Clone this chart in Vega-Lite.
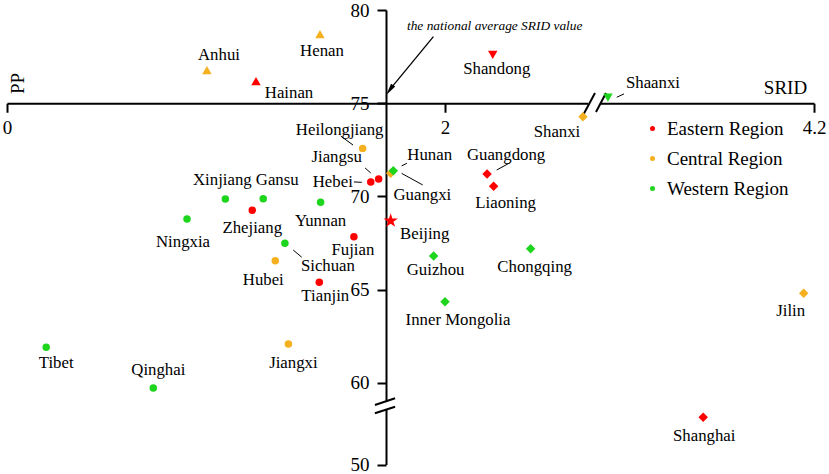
{
  "$schema": "https://vega.github.io/schema/vega-lite/v6.json",
  "width": 829,
  "height": 474,
  "autosize": {"type": "none"},
  "padding": 0,
  "background": "white",
  "config": {
    "view": {"stroke": null},
    "font": "Liberation Serif",
    "text": {"font": "Liberation Serif", "fontSize": 16.8, "color": "black", "align": "center", "baseline": "middle"}
  },
  "datasets": {
    "provinces": [
      {"province": "Anhui", "region": "Central Region", "quadrant": "upper-left", "srid": 0.913, "pp": 76.78},
      {"province": "Henan", "region": "Central Region", "quadrant": "upper-left", "srid": 1.429, "pp": 78.71},
      {"province": "Hainan", "region": "Eastern Region", "quadrant": "upper-left", "srid": 1.137, "pp": 76.19},
      {"province": "Shandong", "region": "Eastern Region", "quadrant": "upper-right", "srid": 2.218, "pp": 77.59},
      {"province": "Shaanxi", "region": "Western Region", "quadrant": "upper-right", "srid": 3.259, "pp": 75.30},
      {"province": "Shanxi", "region": "Central Region", "quadrant": "lower-right", "srid": 2.630, "pp": 74.28},
      {"province": "Heilongjiang", "region": "Central Region", "quadrant": "lower-left", "srid": 1.624, "pp": 72.58},
      {"province": "Jiangsu", "region": "Eastern Region", "quadrant": "lower-left", "srid": 1.697, "pp": 70.94},
      {"province": "Hebei", "region": "Eastern Region", "quadrant": "lower-left", "srid": 1.661, "pp": 70.78},
      {"province": "Hunan", "region": "Central Region", "quadrant": "lower-right", "srid": 1.752, "pp": 71.24},
      {"province": "Guangxi", "region": "Western Region", "quadrant": "lower-right", "srid": 1.764, "pp": 71.38},
      {"province": "Xinjiang", "region": "Western Region", "quadrant": "lower-left", "srid": 0.997, "pp": 69.87},
      {"province": "Gansu", "region": "Western Region", "quadrant": "lower-left", "srid": 1.170, "pp": 69.88},
      {"province": "Zhejiang", "region": "Eastern Region", "quadrant": "lower-left", "srid": 1.120, "pp": 69.26},
      {"province": "Ningxia", "region": "Western Region", "quadrant": "lower-left", "srid": 0.822, "pp": 68.79},
      {"province": "Yunnan", "region": "Western Region", "quadrant": "lower-left", "srid": 1.432, "pp": 69.69},
      {"province": "Beijing", "region": "Eastern Region", "quadrant": "capital", "srid": 1.752, "pp": 68.70},
      {"province": "Fujian", "region": "Eastern Region", "quadrant": "lower-left", "srid": 1.584, "pp": 67.84},
      {"province": "Sichuan", "region": "Western Region", "quadrant": "lower-left", "srid": 1.269, "pp": 67.49},
      {"province": "Hubei", "region": "Central Region", "quadrant": "lower-left", "srid": 1.225, "pp": 66.56},
      {"province": "Tianjin", "region": "Eastern Region", "quadrant": "lower-left", "srid": 1.426, "pp": 65.40},
      {"province": "Guangdong", "region": "Eastern Region", "quadrant": "lower-right", "srid": 2.192, "pp": 71.21},
      {"province": "Liaoning", "region": "Eastern Region", "quadrant": "lower-right", "srid": 2.222, "pp": 70.55},
      {"province": "Guizhou", "region": "Western Region", "quadrant": "lower-right", "srid": 1.948, "pp": 66.81},
      {"province": "Chongqing", "region": "Western Region", "quadrant": "lower-right", "srid": 2.391, "pp": 67.20},
      {"province": "Inner Mongolia", "region": "Western Region", "quadrant": "lower-right", "srid": 2.000, "pp": 64.36},
      {"province": "Jilin", "region": "Central Region", "quadrant": "lower-right", "srid": 4.153, "pp": 64.81},
      {"province": "Tibet", "region": "Western Region", "quadrant": "lower-left", "srid": 0.179, "pp": 61.91},
      {"province": "Qinghai", "region": "Western Region", "quadrant": "lower-left", "srid": 0.668, "pp": 59.73},
      {"province": "Jiangxi", "region": "Central Region", "quadrant": "lower-left", "srid": 1.285, "pp": 62.09},
      {"province": "Shanghai", "region": "Eastern Region", "quadrant": "lower-right", "srid": 3.694, "pp": 52.53}
    ],
    "segments": [
      {"kind": "gap", "srid": 2.670, "pp": 75, "srid2": 3.060, "pp2": 75},
      {"kind": "gap", "srid": 1.7306, "pp": 57.69, "srid2": 1.7306, "pp2": 53.96},
      {"kind": "slash", "srid": 2.626, "pp": 74.26, "srid2": 2.896, "pp2": 75.55},
      {"kind": "slash", "srid": 2.928, "pp": 74.53, "srid2": 3.25, "pp2": 75.55},
      {"kind": "slash", "srid": 1.680, "pp": 56.04, "srid2": 1.772, "pp2": 59.02},
      {"kind": "slash", "srid": 1.680, "pp": 52.75, "srid2": 1.772, "pp2": 55.29},
      {"kind": "leader", "srid": 1.524, "pp": 73.24, "srid2": 1.580, "pp2": 72.76},
      {"kind": "leader", "srid": 1.635, "pp": 71.53, "srid2": 1.661, "pp2": 71.26},
      {"kind": "leader", "srid": 1.584, "pp": 70.78, "srid2": 1.620, "pp2": 70.76},
      {"kind": "leader", "srid": 1.802, "pp": 71.64, "srid2": 1.826, "pp2": 71.78},
      {"kind": "leader", "srid": 1.802, "pp": 71.24, "srid2": 1.898, "pp2": 70.62},
      {"kind": "leader", "srid": 2.236, "pp": 71.42, "srid2": 2.297, "pp2": 71.81},
      {"kind": "leader", "srid": 1.307, "pp": 67.13, "srid2": 1.346, "pp2": 66.74},
      {"kind": "leader", "srid": 3.299, "pp": 75.32, "srid2": 3.332, "pp2": 75.50},
      {"kind": "arrow", "srid": 1.947, "pp": 78.57, "srid2": 1.7525, "pp2": 75.796}
    ],
    "notes": [
      {"note": "the national average SRID value", "srid": 2.227, "pp": 79.14, "tipSrid": 1.7475, "tipPp": 75.705}
    ]
  },
  "data": {"name": "provinces"},
  "encoding": {
    "x": {
      "field": "srid", "type": "quantitative",
      "scale": {"domain": [0, 2.65, 3.25, 4.2], "range": [7, 587.35, 606, 814], "nice": false, "zero": false},
      "axis": {
        "orient": "bottom", "offset": -370.75, "values": [0, 2, 4.2], "format": ".1~f",
        "grid": false, "domainColor": "black", "domainWidth": 2, "tickColor": "black", "tickWidth": 2, "tickSize": 9,
        "labelFont": "Liberation Serif", "labelFontSize": 19, "labelColor": "black", "labelPadding": 6, "labelFlush": false, "labelOverlap": false,
        "title": "SRID", "titleFont": "Liberation Serif", "titleFontSize": 19, "titleFontWeight": "normal", "titleColor": "black",
        "titleX": 785, "titleY": -15.5, "titleAlign": "center", "titleBaseline": "middle", "titleAngle": 0
      }
    },
    "y": {
      "field": "pp", "type": "quantitative",
      "scale": {"domain": [50, 52.8, 59.2, 80], "range": [464.5, 412.3, 397.9, 10], "nice": false, "zero": false},
      "axis": {
        "orient": "left", "offset": -386, "values": [50, 60, 65, 70, 75, 80], "format": "d",
        "grid": false, "domainColor": "black", "domainWidth": 2, "tickColor": "black", "tickWidth": 2, "tickSize": 9,
        "labelFont": "Liberation Serif", "labelFontSize": 19, "labelColor": "black", "labelPadding": 8, "labelOverlap": false,
        "title": "PP", "titleFont": "Liberation Serif", "titleFontSize": 19, "titleFontWeight": "normal", "titleColor": "black",
        "titleX": -369, "titleY": 83, "titleAngle": -90, "titleAlign": "center", "titleBaseline": "middle"
      }
    }
  },
  "layer": [
    {"data": {"name": "segments"}, "transform": [{"filter": "datum.kind === 'gap'"}], "mark": {"type": "rule", "color": "white", "strokeWidth": 5}, "encoding": {"x2": {"field": "srid2"}, "y2": {"field": "pp2"}}},
    {"data": {"name": "segments"}, "transform": [{"filter": "datum.kind === 'slash'"}], "mark": {"type": "rule", "color": "black", "strokeWidth": 2}, "encoding": {"x2": {"field": "srid2"}, "y2": {"field": "pp2"}}},
    {"data": {"name": "segments"}, "transform": [{"filter": "datum.kind === 'leader'"}], "mark": {"type": "rule", "color": "black", "strokeWidth": 1}, "encoding": {"x2": {"field": "srid2"}, "y2": {"field": "pp2"}}},
    {"data": {"name": "segments"}, "transform": [{"filter": "datum.kind === 'arrow'"}], "mark": {"type": "rule", "color": "black", "strokeWidth": 1.3}, "encoding": {"x2": {"field": "srid2"}, "y2": {"field": "pp2"}}},
    {"data": {"name": "notes"}, "mark": {"type": "point", "filled": true, "color": "black", "opacity": 1, "size": 144, "angle": 214.6, "shape": "M0,-1L0.42,1L-0.42,1Z"}, "encoding": {"x": {"field": "tipSrid", "type": "quantitative"}, "y": {"field": "tipPp", "type": "quantitative"}}},
    {"data": {"name": "notes"}, "mark": {"type": "text", "fontSize": 13.4, "fontStyle": "italic"}, "encoding": {"text": {"field": "note"}}},
    {
      "transform": [{"filter": "datum.quadrant === 'lower-left'"}],
      "mark": {"type": "point", "filled": true, "opacity": 1, "shape": "circle", "size": 56},
      "encoding": {
        "color": {
          "field": "region", "type": "nominal",
          "scale": {"domain": ["Eastern Region", "Central Region", "Western Region"], "range": ["#FF0000", "#F5B01F", "#1ED51E"]},
          "legend": {"orient": "none", "legendX": 643, "legendY": 119, "title": null, "symbolType": "circle", "symbolSize": 25, "symbolStrokeWidth": 0,
            "labelFont": "Liberation Serif", "labelFontSize": 19, "labelColor": "black", "labelOffset": 5, "rowPadding": 10, "padding": 0}
        }
      }
    },
    {
      "transform": [{"filter": "datum.quadrant !== 'lower-left' && datum.quadrant !== 'capital'"}],
      "mark": {"type": "point", "filled": true, "opacity": 1, "size": 90},
      "encoding": {
        "color": {"field": "region", "type": "nominal"},
        "shape": {"field": "quadrant", "type": "nominal", "scale": {"domain": ["upper-left", "upper-right", "lower-right"], "range": ["triangle-up", "triangle-down", "diamond"]}, "legend": null}
      }
    },
    {
      "transform": [{"filter": "datum.quadrant === 'capital'"}],
      "mark": {"type": "point", "filled": true, "opacity": 1, "size": 230, "shape": "M0,-1L0.2245,-0.309L0.951,-0.309L0.363,0.118L0.588,0.809L0,0.382L-0.588,0.809L-0.363,0.118L-0.951,-0.309L-0.2245,-0.309Z"},
      "encoding": {"color": {"field": "region", "type": "nominal"}}
    },
    {"transform": [{"filter": "datum.province === 'Anhui'"}], "mark": {"type": "text", "dx": 12, "dy": -15}, "encoding": {"text": {"field": "province"}}},
    {"transform": [{"filter": "datum.province === 'Henan'"}], "mark": {"type": "text", "dx": 2, "dy": 17}, "encoding": {"text": {"field": "province"}}},
    {"transform": [{"filter": "datum.province === 'Hainan'"}], "mark": {"type": "text", "dx": 33, "dy": 12}, "encoding": {"text": {"field": "province"}}},
    {"transform": [{"filter": "datum.province === 'Shandong'"}], "mark": {"type": "text", "dx": 4, "dy": 14}, "encoding": {"text": {"field": "province"}}},
    {"transform": [{"filter": "datum.province === 'Shaanxi'"}], "mark": {"type": "text", "dx": 45, "dy": -15}, "encoding": {"text": {"field": "province"}}},
    {"transform": [{"filter": "datum.province === 'Shanxi'"}], "mark": {"type": "text", "dx": -26, "dy": 15}, "encoding": {"text": {"field": "province"}}},
    {"transform": [{"filter": "datum.province === 'Heilongjiang'"}], "mark": {"type": "text", "dx": -23, "dy": -18}, "encoding": {"text": {"field": "province"}}},
    {"transform": [{"filter": "datum.province === 'Jiangsu'"}], "mark": {"type": "text", "dx": -42, "dy": -22}, "encoding": {"text": {"field": "province"}}},
    {"transform": [{"filter": "datum.province === 'Hebei'"}], "mark": {"type": "text", "dx": -38, "dy": 0}, "encoding": {"text": {"field": "province"}}},
    {"transform": [{"filter": "datum.province === 'Hunan'"}], "mark": {"type": "text", "dx": 39, "dy": -18}, "encoding": {"text": {"field": "province"}}},
    {"transform": [{"filter": "datum.province === 'Guangxi'"}], "mark": {"type": "text", "dx": 29, "dy": 24}, "encoding": {"text": {"field": "province"}}},
    {"transform": [{"filter": "datum.province === 'Xinjiang'"}], "mark": {"type": "text", "dx": -3, "dy": -19}, "encoding": {"text": {"field": "province"}}},
    {"transform": [{"filter": "datum.province === 'Gansu'"}], "mark": {"type": "text", "dx": 14, "dy": -19}, "encoding": {"text": {"field": "province"}}},
    {"transform": [{"filter": "datum.province === 'Zhejiang'"}], "mark": {"type": "text", "dx": 0, "dy": 18}, "encoding": {"text": {"field": "province"}}},
    {"transform": [{"filter": "datum.province === 'Ningxia'"}], "mark": {"type": "text", "dx": -4, "dy": 23}, "encoding": {"text": {"field": "province"}}},
    {"transform": [{"filter": "datum.province === 'Yunnan'"}], "mark": {"type": "text", "dx": 0, "dy": 19}, "encoding": {"text": {"field": "province"}}},
    {"transform": [{"filter": "datum.province === 'Beijing'"}], "mark": {"type": "text", "dx": 34, "dy": 13}, "encoding": {"text": {"field": "province"}}},
    {"transform": [{"filter": "datum.province === 'Fujian'"}], "mark": {"type": "text", "dx": -1, "dy": 13}, "encoding": {"text": {"field": "province"}}},
    {"transform": [{"filter": "datum.province === 'Sichuan'"}], "mark": {"type": "text", "dx": 43, "dy": 23}, "encoding": {"text": {"field": "province"}}},
    {"transform": [{"filter": "datum.province === 'Hubei'"}], "mark": {"type": "text", "dx": -12, "dy": 19}, "encoding": {"text": {"field": "province"}}},
    {"transform": [{"filter": "datum.province === 'Tianjin'"}], "mark": {"type": "text", "dx": 6, "dy": 14}, "encoding": {"text": {"field": "province"}}},
    {"transform": [{"filter": "datum.province === 'Guangdong'"}], "mark": {"type": "text", "dx": 19, "dy": -19}, "encoding": {"text": {"field": "province"}}},
    {"transform": [{"filter": "datum.province === 'Liaoning'"}], "mark": {"type": "text", "dx": 12, "dy": 17}, "encoding": {"text": {"field": "province"}}},
    {"transform": [{"filter": "datum.province === 'Guizhou'"}], "mark": {"type": "text", "dx": 2, "dy": 14}, "encoding": {"text": {"field": "province"}}},
    {"transform": [{"filter": "datum.province === 'Chongqing'"}], "mark": {"type": "text", "dx": 4, "dy": 18}, "encoding": {"text": {"field": "province"}}},
    {"transform": [{"filter": "datum.province === 'Inner Mongolia'"}], "mark": {"type": "text", "dx": 13, "dy": 18}, "encoding": {"text": {"field": "province"}}},
    {"transform": [{"filter": "datum.province === 'Jilin'"}], "mark": {"type": "text", "dx": -13, "dy": 18}, "encoding": {"text": {"field": "province"}}},
    {"transform": [{"filter": "datum.province === 'Tibet'"}], "mark": {"type": "text", "dx": 10, "dy": 16}, "encoding": {"text": {"field": "province"}}},
    {"transform": [{"filter": "datum.province === 'Qinghai'"}], "mark": {"type": "text", "dx": 5, "dy": -18}, "encoding": {"text": {"field": "province"}}},
    {"transform": [{"filter": "datum.province === 'Jiangxi'"}], "mark": {"type": "text", "dx": 5, "dy": 19}, "encoding": {"text": {"field": "province"}}},
    {"transform": [{"filter": "datum.province === 'Shanghai'"}], "mark": {"type": "text", "dx": 1, "dy": 19}, "encoding": {"text": {"field": "province"}}}
  ]
}
